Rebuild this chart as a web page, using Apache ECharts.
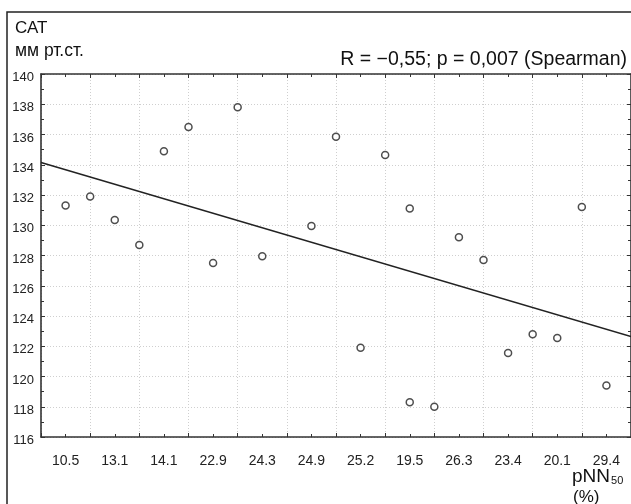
<!DOCTYPE html>
<html>
<head>
    <meta charset="utf-8">
    <title>САТ vs pNN50</title>
    <style>
        html, body { margin: 0; padding: 0; background: #fff; }
        #chart { width: 631px; height: 504px; }
    </style>
</head>
<body>
    <div id="chart"></div>
    <script src="https://cdn.jsdelivr.net/npm/echarts@6/dist/echarts.min.js"></script>
    <script>
        // подписи оси X (по одной на каждые 2 позиции)
        var xLabels = ['10.5', '13.1', '14.1', '22.9', '24.3', '24.9', '25.2', '19.5', '26.3', '23.4', '20.1', '29.4'];
        // позиции точек по оси X (0..24) и значения САТ
        var xPos = [1, 2, 3, 4, 5, 6, 7, 8, 9, 11, 12, 13, 14, 15, 15, 16, 17, 18, 19, 20, 21, 22, 23];
        var satValues = [131.3, 131.9, 130.35, 128.7, 134.9, 136.5, 127.5, 137.8, 127.95, 129.95, 135.85, 121.9, 134.65, 131.1, 118.3, 118.0, 129.2, 127.7, 121.55, 122.8, 122.55, 131.2, 119.4];
        // линия регрессии: начало и конец
        var fitX = [0, 24];
        var fitY = [134.15, 122.65];

        var chart = echarts.init(document.getElementById('chart'));
        var dark = '#333';
        var font = 'Liberation Sans, Arial, sans-serif';
        var gridStyle = { color: '#cfcfcf', type: [1, 2], width: 1 };

        var points = xPos.map(function (x, i) { return [x, satValues[i]]; });
        var fitLine = fitX.map(function (x, i) { return [x, fitY[i]]; });

        // общие настройки осей с внутренними делениями
        function frameAxis(extra) {
            var base = {
                axisLine: { show: true, onZero: false, lineStyle: { color: dark, width: 1.6 } },
                axisTick: { show: true, inside: true, length: 4, lineStyle: { color: dark } },
                minorTick: { show: true, splitNumber: 2, length: 3, lineStyle: { color: dark } },
                axisLabel: { show: false },
                splitLine: { show: false }
            };
            for (var k in extra) base[k] = extra[k];
            return base;
        }

        var option = {
            animation: false,
            backgroundColor: '#fff',
            grid: { left: 41, top: 74, right: -1, bottom: 67, containLabel: false },
            xAxis: [
                frameAxis({ type: 'value', min: 0, max: 24, interval: 2, position: 'bottom',
                    splitLine: { show: true, lineStyle: gridStyle } }),
                {
                    type: 'category', data: xLabels, position: 'bottom', boundaryGap: true,
                    axisLine: { show: false }, axisTick: { show: false },
                    axisLabel: { show: true, margin: 17, color: '#222', fontSize: 14, fontFamily: font },
                    splitLine: { show: false }
                },
                frameAxis({ type: 'value', min: 0, max: 24, interval: 2, position: 'top' })
            ],
            yAxis: [
                frameAxis({ type: 'value', min: 116, max: 140, interval: 2, position: 'left',
                    axisLabel: { show: true, margin: 7, color: '#222', fontSize: 13, fontFamily: font,
                        verticalAlign: 'top', lineHeight: 7 },
                    splitLine: { show: true, lineStyle: gridStyle } }),
                frameAxis({ type: 'value', min: 116, max: 140, interval: 2, position: 'right' })
            ],
            series: [{
                type: 'scatter', xAxisIndex: 0, yAxisIndex: 0,
                symbol: 'circle', symbolSize: 7,
                itemStyle: { color: '#fff', borderColor: '#222', borderWidth: 1.5 },
                data: points, z: 3
            }, {
                type: 'line', xAxisIndex: 0, yAxisIndex: 0,
                showSymbol: false, symbol: 'none',
                lineStyle: { color: '#222', width: 1.5 },
                data: fitLine, z: 2
            }],
            graphic: [{
                type: 'rect', silent: true,
                shape: { x: 7, y: 12, width: 700, height: 600 },
                style: { fill: 'none', stroke: '#222', lineWidth: 1.5 }
            }, {
                type: 'text', left: 15, top: 20,
                style: { text: 'САТ', font: '17px ' + font, fill: '#111' }
            }, {
                type: 'text', left: 15, top: 42,
                style: { text: 'мм рт.ст.', font: '17.5px ' + font, fill: '#111' }
            }, {
                type: 'text', right: 4, top: 50,
                style: { text: 'R = \u22120,55; p = 0,007 (Spearman)', font: '19.5px ' + font, fill: '#111' }
            }, {
                type: 'text', left: 572, top: 467,
                style: {
                    text: '{a|pNN}{b|50}',
                    rich: {
                        a: { font: '19px ' + font, fill: '#111', verticalAlign: 'bottom' },
                        b: { font: '11px ' + font, fill: '#111', padding: [9, 0, 0, 1], verticalAlign: 'bottom' }
                    }
                }
            }, {
                type: 'text', left: 573, top: 489,
                style: { text: '(%)', font: '17px ' + font, fill: '#111' }
            }]
        };
        chart.setOption(option);
        window.addEventListener('resize', function () { chart.resize(); });
    </script>
</body>
</html>
